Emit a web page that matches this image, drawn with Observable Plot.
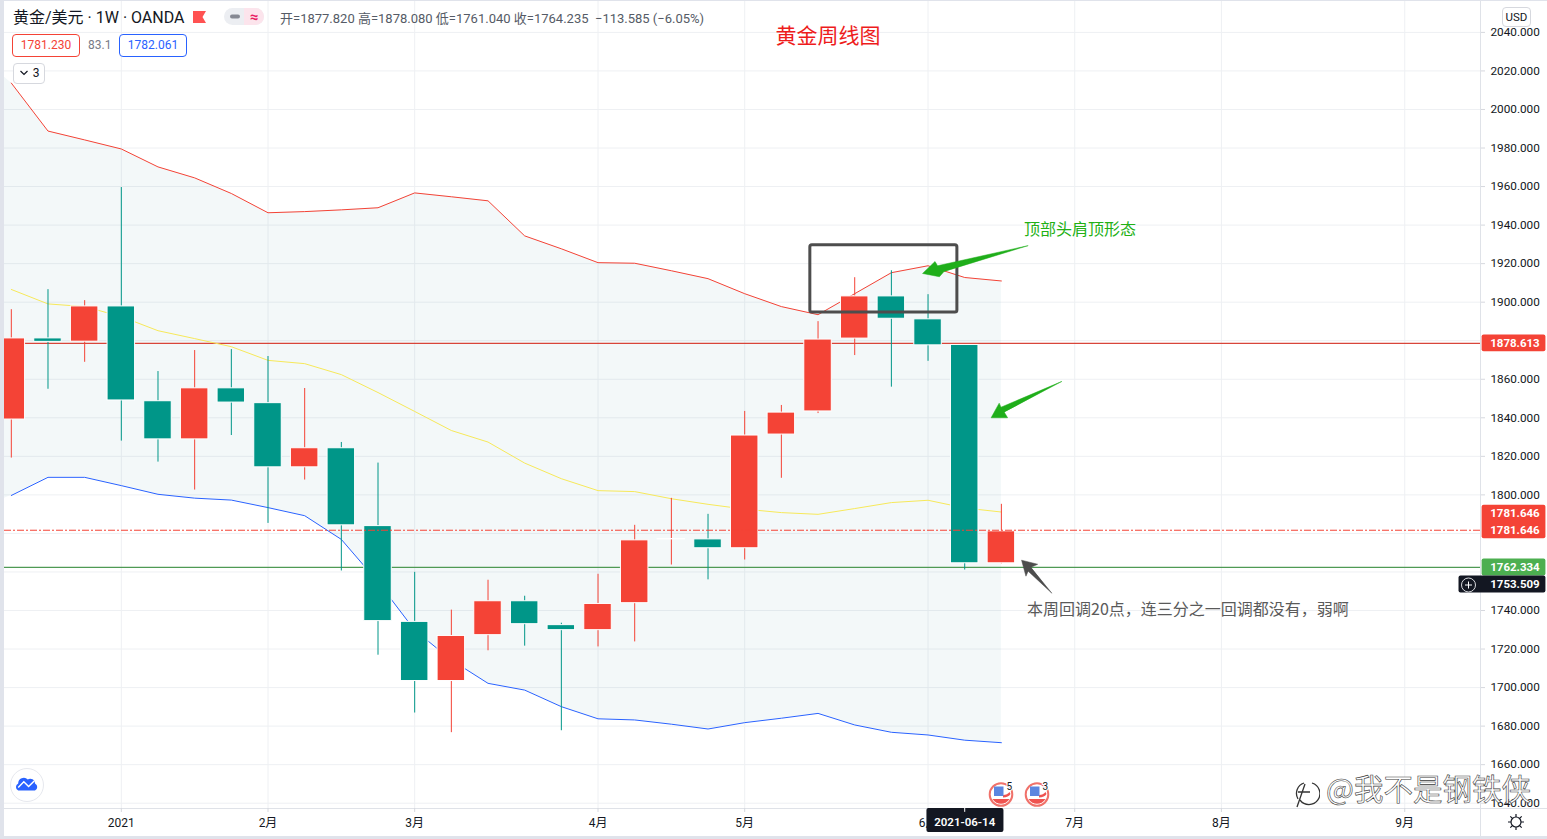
<!DOCTYPE html>
<html lang="zh">
<head>
<meta charset="utf-8">
<title>黄金周线图</title>
<script src="https://cdn.jsdelivr.net/npm/d3@7"></script>
<script src="https://cdn.jsdelivr.net/npm/@observablehq/plot@0.6"></script>
<style>
  html, body { margin:0; padding:0; background:#fff; width:1547px; height:839px; overflow:hidden; }
  body { position:relative; font-family:Roboto,"Noto Sans CJK SC",sans-serif; color:#131722; }
  #chart { position:absolute; left:0; top:0; z-index:2; }
  .abs { position:absolute; white-space:nowrap; }
  .edge { position:absolute; background:#e0e3eb; z-index:4; }
  .axis { position:absolute; background:#dfe2e8; z-index:1; }
  .box { border-radius:4px; background:#fff; text-align:center; box-sizing:border-box; font-size:12px; }
  .ov { position:absolute; z-index:5; }
</style>
</head>
<body>
<div class="axis" style="left:1480px;top:0;width:1px;height:836px"></div>
<div class="axis" style="left:4px;top:808px;width:1543px;height:1px"></div>
<div id="chart"></div>
<div class="edge" style="left:0;top:0;width:4px;height:839px"></div>
<div class="edge" style="left:0;top:0;width:1547px;height:1px"></div>
<div class="edge" style="left:0;top:836px;width:1547px;height:3px"></div>

<div class="abs ov" style="left:13px;top:9px;font-size:16px;line-height:18px;color:#131722">黄金/美元 · 1W · OANDA</div>
<svg class="ov" style="left:192px;top:10px" width="15" height="14"><path d="M1 1H14L10.5 7L14 13H1Z" fill="#ff5252"/></svg>
<svg class="ov" style="left:224px;top:8px" width="41" height="18">
  <rect x="0" y="0" width="40" height="17" rx="8.5" fill="#eceef2"/>
  <path d="M20 0H31.5a8.5 8.5 0 0 1 0 17H20Z" fill="#fce4ec"/>
  <rect x="6" y="6.5" width="10" height="4" rx="2" fill="#868993"/>
  <text x="30" y="13.5" font-size="15" font-weight="700" text-anchor="middle" fill="#e91e63">≈</text>
</svg>
<div class="abs ov" style="left:280px;top:10px;font-size:13px;line-height:17px;color:#555b66">开=1877.820 高=1878.080 低=1761.040 收=1764.235 &nbsp;−113.585 (−6.05%)</div>
<div class="abs ov box" style="left:12px;top:34px;width:68px;height:23px;line-height:21px;border:1px solid #f44336;color:#f44336">1781.230</div>
<div class="abs ov" style="left:88px;top:37px;font-size:12px;line-height:16px;color:#787b86">83.1</div>
<div class="abs ov box" style="left:119px;top:34px;width:68px;height:23px;line-height:21px;border:1px solid #2962ff;color:#2962ff">1782.061</div>
<div class="abs ov box" style="left:13px;top:63px;width:32px;height:21px;line-height:19px;border:1px solid #d6d8de;color:#131722"><svg width="10" height="8" style="margin-right:4px"><path d="M1.5 2L5 5.5L8.5 2" fill="none" stroke="#131722" stroke-width="1.2"/></svg>3</div>
<div class="abs ov box" style="left:1502px;top:7px;width:29px;height:20px;line-height:18px;border:1px solid #d6d8de;font-size:11.5px;color:#131722">USD</div>

<svg class="ov" style="left:9px;top:767px" width="36" height="36">
  <circle cx="18" cy="18" r="16.5" fill="#fff" stroke="#e6e8ee" stroke-width="1"/>
  <g transform="translate(18 18) scale(0.8) translate(-18 -18)">
    <path d="M7 25a5 5 0 0 1 0-9a7 7 0 0 1 12-5a6 6 0 0 1 9 5a5 5 0 0 1 0 9Z" fill="#2962ff"/>
    <path d="M7 21L14 14L20 20L27 13" fill="none" stroke="#fff" stroke-width="1.8"/>
  </g>
</svg>

<svg class="ov" style="left:986px;top:780px" width="32" height="28">
  <circle cx="15" cy="14.5" r="11.3" fill="#fff" stroke="#f0716a" stroke-width="2"/>
  <path d="M6.5 19h17a10 10 0 0 1-17 0Z" fill="#ef5350"/>
  <path d="M17 15c3 0 5-1 6.5-3l1 2c-1 2-4 3.500-7.500 3.500Z" fill="#ef5350"/>
  <rect x="8" y="6.500" width="9.500" height="9.500" fill="#5c86e0"/>
  <text x="20.500" y="10" font-size="10" fill="#131722" stroke="#fff" stroke-width="2" paint-order="stroke">5</text>
</svg>
<svg class="ov" style="left:1022px;top:780px" width="32" height="28">
  <circle cx="15" cy="14.5" r="11.3" fill="#fff" stroke="#f0716a" stroke-width="2"/>
  <path d="M6.5 19h17a10 10 0 0 1-17 0Z" fill="#ef5350"/>
  <path d="M17 15c3 0 5-1 6.5-3l1 2c-1 2-4 3.500-7.500 3.500Z" fill="#ef5350"/>
  <rect x="8" y="6.500" width="9.500" height="9.500" fill="#5c86e0"/>
  <text x="20.500" y="10" font-size="10" fill="#131722" stroke="#fff" stroke-width="2" paint-order="stroke">3</text>
</svg>

<svg class="ov" style="left:1290px;top:776px" width="30" height="34">
  <path d="M22 7a11 11 0 1 1-12 17M8 23a11 11 0 0 1 6-16" fill="none" stroke="#333" stroke-width="1.3"/>
  <path d="M8 16h12M7 31L15 8" fill="none" stroke="#333" stroke-width="1.3"/>
</svg>
<div class="abs ov" style="left:1326px;top:768px;font-size:29.5px;line-height:38px;font-family:'Noto Sans CJK SC',sans-serif;color:#fff;-webkit-text-stroke:0.6px #3a3a3a;">@我不是钢铁侠</div>

<svg class="ov" style="left:1507px;top:813px" width="18" height="18">
  <circle cx="9" cy="9" r="5" fill="none" stroke="#131722" stroke-width="1.2"/>
  <path d="M9 1V4M9 14V17M1 9H4M14 9H17M3.3 3.3L5.4 5.4M12.6 12.6L14.7 14.7M3.3 14.7L5.4 12.6M12.6 5.4L14.7 3.3" stroke="#131722" stroke-width="1.2"/>
</svg>
<svg class="ov" style="left:1458px;top:575px" width="22" height="20">
  <circle cx="10.5" cy="10" r="7" fill="none" stroke="#d8d9dd" stroke-width="1"/>
  <path d="M10.5 6.5V13.5M7 10H14" stroke="#fff" stroke-width="1"/>
</svg>

<script>
// Weekly sessions, 2020-12-14 onward
const weeks = ["2020-12-14","2020-12-21","2020-12-28","2021-01-04","2021-01-11","2021-01-18","2021-01-25","2021-02-01","2021-02-08","2021-02-15","2021-02-22","2021-03-01","2021-03-08","2021-03-15","2021-03-22","2021-03-29","2021-04-05","2021-04-12","2021-04-19","2021-04-26","2021-05-03","2021-05-10","2021-05-17","2021-05-24","2021-05-31","2021-06-07","2021-06-14","2021-06-21"];
const open  = [1839.1,1881.2,1879.5,1897.8,1848.6,1828.8,1855.3,1847.6,1814.3,1824.2,1783.8,1734.1,1703.4,1727.2,1744.8,1732.4,1729.8,1743.8,1776.9,1776.9,1772.3,1831.3,1843.3,1881.1,1903.0,1891.1,1877.8,1764.5];
const close = [1881.2,1879.4,1897.8,1849.0,1828.8,1855.3,1847.9,1814.3,1824.2,1784.2,1734.5,1703.4,1726.8,1744.8,1732.9,1729.8,1743.4,1776.4,1777.1,1772.3,1830.8,1842.7,1880.6,1903.0,1891.4,1877.6,1764.5,1781.1];
const high  = [1896.1,1906.5,1900.8,1959.5,1864.0,1874.9,1875.4,1871.8,1855.2,1827.2,1816.5,1759.8,1740.2,1755.7,1747.4,1733.4,1758.8,1784.2,1798.2,1789.9,1843.3,1846.4,1889.9,1912.7,1916.3,1903.9,1877.8,1795.1];
const low   = [1819.1,1854.8,1868.8,1827.9,1817.0,1802.5,1830.8,1785.2,1807.7,1760.5,1716.8,1686.8,1676.6,1719.1,1721.5,1677.6,1721.1,1723.7,1763.6,1755.9,1766.2,1808.6,1842.2,1872.3,1855.9,1869.3,1761.0,1764.2];
const bbUpper = [2013.7,1988.8,1984.2,1979.5,1970.2,1964.5,1956.4,1946.4,1947.0,1947.9,1949.0,1956.7,1954.7,1952.6,1934.4,1927.7,1920.5,1920.2,1916.3,1912.2,1904.4,1897.7,1893.5,1904.4,1915.3,1918.9,1912.8,1911.0];
const bbMiddle = [1906.6,1899.1,1897.7,1892.5,1885.2,1881.1,1876.9,1869.8,1868.1,1862.4,1853.1,1843.3,1833.4,1827.4,1816.5,1808.4,1802.2,1801.7,1798.0,1795.1,1792.6,1790.8,1789.9,1792.9,1796.0,1797.2,1793.2,1791.1];
const bbLower = [1799.7,1809.1,1809.1,1804.8,1800.3,1798.3,1797.3,1793.4,1789.2,1776.9,1754.8,1729.8,1714.3,1702.2,1698.7,1690.1,1683.8,1683.2,1681.0,1678.5,1681.8,1684.1,1686.6,1680.6,1676.8,1675.4,1672.7,1671.4];
// band value one week before the visible window (only its clipped tail shows)
const bandLead = {date:"2020-12-07", upper:2030, lower:1792};

const monthDates  = ["2021-01-04","2021-02-01","2021-03-01","2021-04-05","2021-05-03","2021-06-07","2021-07-05","2021-08-02","2021-09-06"];
const monthLabels = ["2021","2月","3月","4月","5月","6月","7月","8月","9月"];
const priceTicks  = [1640,1660,1680,1700,1720,1740,1760,1780,1800,1820,1840,1860,1880,1900,1920,1940,1960,1980,2000,2020,2040];
// grid levels whose label sits behind a price tag in the gutter
const hiddenLabels = [1760,1780,1880];

// price levels
const lastHigh = 1878.613, lastClose = 1781.646, lastLow = 1762.334, cursorPrice = 1753.509;

// annotation geometry in [week number, price]
const arrowTop = [[27.72,1929.3],[25.26,1918.9],[25.19,1921.1],[24.85,1914.9],[25.31,1913.2],[25.43,1915.8]];
const arrowMid = [[28.64,1858.8],[26.99,1845.5],[26.94,1847.6],[26.72,1840.0],[27.17,1840.0],[27.08,1842.9]];
const arrowLow = [[28.37,1749.1],[27.73,1760.4],[27.67,1757.8],[27.55,1766.1],[27.99,1764.0],[27.81,1762.4]];

const DAY = 864e5, T0 = Date.UTC(2020,11,14);
const wk = w => new Date(T0 + w*7*DAY);
const d = s => new Date(s + "T00:00:00Z");
const labelOf = new Map(monthDates.map((s,i)=>[+d(s), monthLabels[i]]));
const candles = weeks.map((s,i)=>({i, date:d(s), open:open[i], close:close[i], high:high[i], low:low[i], up:close[i]>=open[i]}));
const bands = weeks.map((s,i)=>({date:d(s), upper:bbUpper[i], middle:bbMiddle[i], lower:bbLower[i]}));
const bandRows = [{date:d(bandLead.date), upper:bandLead.upper, lower:bandLead.lower}, ...bands];
const UP = "#f44336", DOWN = "#009688", GRID = "#eef0f3";
const CJK = 'Roboto,"Noto Sans CJK SC",sans-serif';
const YBOT = 1637.25, YTOP = 2056.55;
const poly = (pts, fill) => Plot.line(pts.map(p=>({x:wk(p[0]), y:p[1]})), {x:"x", y:"y", fill, stroke:fill, strokeWidth:0.5, curve:"linear-closed"});

// right-hand price tag helper
const tag = (price, fill, up=4.4, down=4.4, from=40.11) =>
  Plot.rect([{}], {x1:()=>wk(from), x2:()=>wk(41.85), y1:()=>price-down, y2:()=>price+up, fill, rx:2});
const tagText = (price, dy=0) =>
  Plot.text([price], {x:()=>wk(40.33), y:p=>p, text:p=>p.toFixed(3), dy, fill:"#fff", fontWeight:700, fontSize:11.5, textAnchor:"start", fontFamily:CJK});

const chart = Plot.plot({
  width:1547, height:839, marginLeft:4, marginRight:67, marginTop:0, marginBottom:31,
  style:{background:"transparent", fontFamily:CJK, fontSize:"12px", color:"#131722"},
  x:{type:"utc", domain:[wk(-0.186), wk(40.066)]},
  y:{domain:[YBOT, YTOP]},
  marks:[
    Plot.ruleY(priceTicks, {stroke:GRID, strokeWidth:1}),
    Plot.ruleX(monthDates.map(d), {stroke:GRID, strokeWidth:1}),
    Plot.areaY(bandRows, {x:"date", y1:"lower", y2:"upper", fill:"#0f7f8f", fillOpacity:0.05, clip:true}),
    Plot.ruleY([lastHigh], {stroke:"#d8453a", strokeWidth:1.2}),
    Plot.ruleY([lastLow], {stroke:"#4f9a55", strokeWidth:1.2}),
    Plot.line(bands, {x:"date", y:"upper", stroke:"#f44336", strokeWidth:1}),
    Plot.line(bands, {x:"date", y:"middle", stroke:"#f7e95a", strokeWidth:1}),
    Plot.line(bands, {x:"date", y:"lower", stroke:"#2962ff", strokeWidth:1}),
    Plot.ruleX(candles, {x:"date", y1:"low", y2:"high", stroke:c=>c.up?UP:DOWN, strokeWidth:1, clip:true}),
    Plot.rect(candles, {x1:c=>wk(c.i-0.375), x2:c=>wk(c.i+0.375), y1:"open", y2:"close", fill:c=>c.up?UP:DOWN, stroke:"#fff", strokeWidth:1, clip:true}),
    Plot.ruleY([lastClose], {stroke:"#f44336", strokeWidth:1, strokeDasharray:"7,2,2,2"}),

    Plot.axisY({anchor:"right", ticks:priceTicks.filter(t=>!hiddenLabels.includes(t)), tickFormat:v=>v.toFixed(3), tickSize:4, tickPadding:6, label:null, fontSize:11.75, stroke:"#d6d8de", fill:"#131722"}),
    Plot.axisX({ticks:monthDates.map(d), tickFormat:t=>labelOf.get(+t), tickSize:4, tickPadding:6, label:null, fontSize:12, stroke:"#d6d8de", fill:"#131722"}),

    // annotations
    Plot.rect([{}], {x1:()=>wk(21.79), x2:()=>wk(25.80), y1:()=>1894.6, y2:()=>1929.6, fill:"none", stroke:"#4d4d4d", strokeWidth:3, rx:2}),
    poly(arrowTop, "#1fae1a"),
    poly(arrowMid, "#1fae1a"),
    poly(arrowLow, "#4d4d4d"),
    Plot.text(["黄金周线图"], {x:()=>wk(22.27), y:()=>2038.1, text:t=>t, fill:"#ee1c1c", fontSize:21, fontFamily:'"Noto Sans CJK SC",sans-serif'}),
    Plot.text(["顶部头肩顶形态"], {x:()=>wk(27.62), y:()=>1937.6, text:t=>t, fill:"#22b014", fontSize:16, textAnchor:"start", fontFamily:'"Noto Sans CJK SC",sans-serif'}),
    Plot.text(["本周回调20点，连三分之一回调都没有，弱啊"], {x:()=>wk(27.70), y:()=>1740.5, text:t=>t, fill:"#5a5a5a", fontSize:16, textAnchor:"start", fontFamily:'"Noto Sans CJK TC","Noto Sans CJK SC",sans-serif'}),

    // price tags in the axis gutter
    tag(lastHigh, "#f44336"),
    tagText(lastHigh),
    tag(lastClose, "#f44336", 13, 4.4),
    tagText(lastClose, -17),
    tagText(lastClose),
    tag(lastLow, "#4caf50"),
    tagText(lastLow),
    tag(cursorPrice, "#131722", 4.4, 4.4, 39.48),
    tagText(cursorPrice),

    // date cursor tag under the axis
    Plot.rect([{}], {x1:()=>wk(24.97), x2:()=>wk(27.07), y1:()=>YBOT, y2:()=>YBOT-12.4, fill:"#131722", rx:2}),
    Plot.ruleX([wk(26)], {y1:()=>YBOT, y2:()=>YBOT-2, stroke:"#fff"}),
    Plot.text(["2021-06-14"], {x:()=>wk(26), y:()=>1630.0, text:t=>t, fill:"#fff", fontWeight:600, fontSize:11.5, fontFamily:CJK})
  ]
});
document.getElementById("chart").appendChild(chart);
</script>
</body>
</html>
